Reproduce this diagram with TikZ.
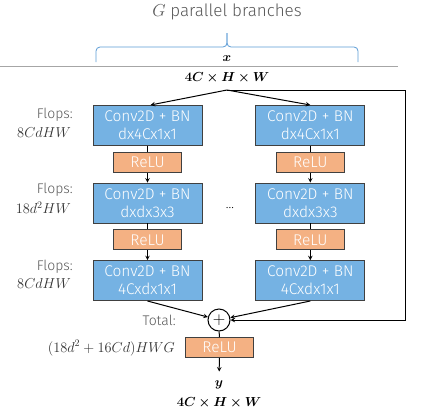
\documentclass[tikz,border=0pt]{standalone}
\usepackage{fontspec}
\IfFontExistsTF{Fira Sans Light}{\setmainfont{Fira Sans Light}}{\setmainfont{Open Sans}}
\usepackage{amsmath}
\usepackage{bm}
\usetikzlibrary{positioning, calc, arrows}

\definecolor{convblue}{RGB}{117,178,227}
\definecolor{reluorange}{RGB}{244,177,131}
\definecolor{labelgray}{RGB}{89,89,89}
\definecolor{mathgray}{RGB}{50,50,50}
\definecolor{bracecol}{RGB}{91,155,213}

\tikzset{
	conv/.style={rectangle, draw=black!75, line width=0.8pt, fill=convblue, text=white, minimum width=109pt, minimum height=40pt, inner sep=0pt, align=center, font=\fontsize{15.5}{18}\selectfont},
	relu/.style={rectangle, draw=black!75, line width=0.8pt, fill=reluorange, text=white, minimum width=68pt, minimum height=20pt, inner sep=0pt, font=\fontsize{15.5}{18}\selectfont},
	flops/.style={anchor=east, text=labelgray, inner sep=0pt, font=\fontsize{14}{16}\selectfont},
	flopsval/.style={anchor=east, text=mathgray, inner sep=0pt, font=\fontsize{14.4}{17}\selectfont},
	dims/.style={inner sep=0pt, scale=1.09, transform shape, font=\fontsize{12}{14}\selectfont},
	conn/.style={line width=1pt},
}

\begin{document}
\begin{tikzpicture}[x=1pt, y=-1pt]
			\useasboundingbox (0,0) rectangle (436,415);
			
			\node[text=labelgray, font=\fontsize{17}{20}\selectfont] (title) at (227,12) {$G$ parallel branches};
			\draw[bracecol, line width=0.8pt, rounded corners=4pt] (96,62) -- (96,47) -- (227,47) -- (227,33);
			\draw[bracecol, line width=0.8pt, rounded corners=4pt] (358,62) -- (358,47) -- (227,47) -- (227,33);
			\draw[gray!70, line width=0.8pt] (0,66) -- (398,66);
			\node[dims] (xin) at (227,59) {$\bm{x}$};
			\node[dims] (xdim) at (227,78) {$\bm{4C\times H\times W}$};
			
			% left branch
			\node[conv, anchor=north] (C1) at (147.5,105) {Conv2D + BN\\dx4Cx1x1};
			\node[relu, below=6pt of C1] (R1) {ReLU};
			\node[conv, below=10pt of R1] (C2) {Conv2D + BN\\dxdx3x3};
			\node[relu, below=6pt of C2] (R2) {ReLU};
			\node[conv, below=10pt of R2] (C3) {Conv2D + BN\\4Cxdx1x1};
			
			% right branch
			\node[conv, right=53pt of C1] (D1) {Conv2D + BN\\dx4Cx1x1};
			\node[relu, below=6pt of D1] (S1) {ReLU};
			\node[conv, below=10pt of S1] (D2) {Conv2D + BN\\dxdx3x3};
			\node[relu, below=6pt of D2] (S2) {ReLU};
			\node[conv, below=10pt of S2] (D3) {Conv2D + BN\\4Cxdx1x1};
			
			\node[font=\fontsize{13}{15}\selectfont] (dots) at (230,208) {\dots};
			
			\node[circle, draw, line width=1pt, fill=white, minimum size=22pt, inner sep=0pt, font=\fontsize{17.28}{18}\selectfont] (plus) at (219,320) {$+$};
			\node[relu, anchor=north] (RF) at (219.5,337) {ReLU};
			\node[dims] (yout) at (219,385) {$\bm{y}$};
			\node[dims] (ydim) at (219,403) {$\bm{4C\times H\times W}$};
			
			% flops labels
			\node[flops] (F1) at (73,115) {Flops:};
			\node[flopsval] (F1v) at (71,132) {$8CdHW$};
			\node[flops] (F2) at (73,190) {Flops:};
			\node[flopsval] (F2v) at (71,208) {$18d^2HW$};
			\node[flops] (F3) at (73,267) {Flops:};
			\node[flopsval] (F3v) at (71,283) {$8CdHW$};
			\node[flops] (tot) at (176,320) {Total:};
			\node[flopsval] (totv) at (175,348) {$(18d^2+16Cd)HWG$};
			
			\coordinate (split) at (227,90);
			\coordinate (skip) at (405,90);
			
			\draw[-stealth, conn] (split) -- ($(C1.north)+(3,0)$);
			\draw[-stealth, conn] (split) -- (D1.north);
			\draw[-stealth, conn] (split) -- (skip) |- (plus.east);
			
			\draw[conn] (C1) -- (R1);
			\draw[-stealth, conn] (R1) -- (C2);
			\draw[conn] (C2) -- (R2);
			\draw[-stealth, conn] (R2) -- (C3);
			\draw[conn] (D1) -- (S1);
			\draw[-stealth, conn] (S1) -- (D2);
			\draw[conn] (D2) -- (S2);
			\draw[-stealth, conn] (S2) -- (D3);
			
			\draw[-stealth, conn] (C3.south) -- (plus);
			\draw[-stealth, conn] (D3.south) -- (plus);
			\draw[conn] (plus) -- (RF);
			\draw[-stealth, conn, shorten >=9pt] (RF) -- (yout);
		\end{tikzpicture}
\end{document}
